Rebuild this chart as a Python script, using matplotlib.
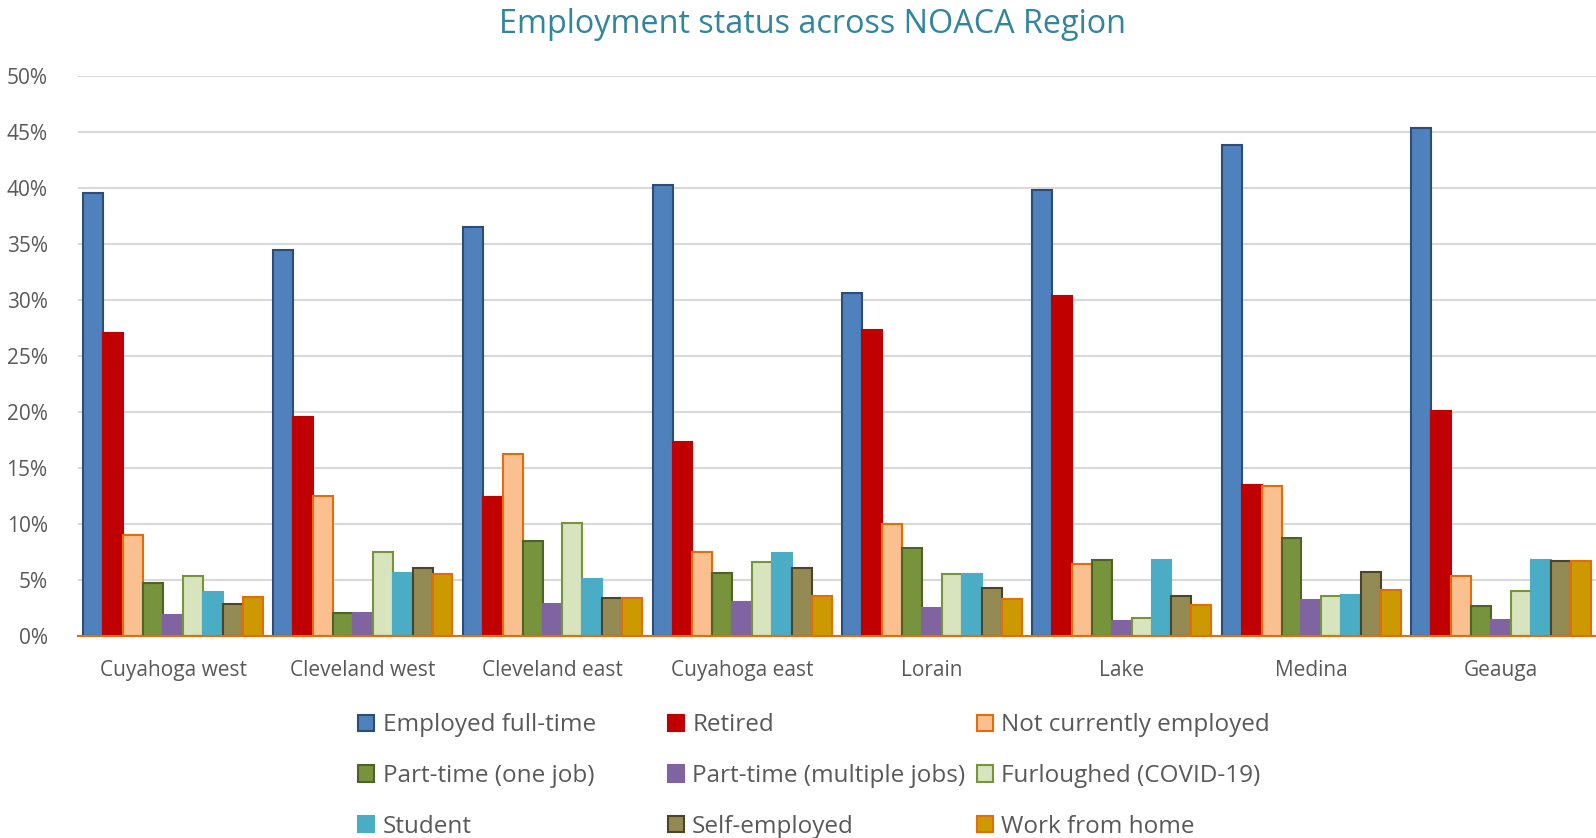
import matplotlib.pyplot as plt
import numpy as np

regions = ['Cuyahoga west', 'Cleveland west', 'Cleveland east', 'Cuyahoga east',
           'Lorain', 'Lake', 'Medina', 'Geauga']

series = ['Employed full-time', 'Retired', 'Not currently employed',
          'Part-time (one job)', 'Part-time (multiple jobs)', 'Furloughed (COVID-19)',
          'Student', 'Self-employed', 'Work from home']

# percent values per series, one entry per region
employed_full = [39.6, 34.5, 36.5, 40.3, 30.6, 39.8, 43.9, 45.4]
retired = [27.1, 19.6, 12.4, 17.3, 27.3, 30.4, 13.5, 20.1]
not_employed = [9.0, 12.5, 16.3, 7.5, 10.0, 6.4, 13.4, 5.4]
part_one = [4.7, 2.05, 8.5, 5.6, 7.9, 6.8, 8.8, 2.7]
part_multi = [1.9, 2.05, 2.9, 3.0, 2.5, 1.3, 3.2, 1.4]
furloughed = [5.4, 7.5, 10.1, 6.6, 5.5, 1.6, 3.6, 4.05]
student = [3.9, 5.6, 5.1, 7.4, 5.5, 6.8, 3.7, 6.8]
self_employed = [2.9, 6.05, 3.4, 6.1, 4.3, 3.6, 5.7, 6.7]
work_home = [3.5, 5.5, 3.4, 3.6, 3.3, 2.8, 4.1, 6.7]

values = [employed_full, retired, not_employed, part_one, part_multi,
          furloughed, student, self_employed, work_home]

fills = ['#4F81BD', '#C00000', '#FAC090', '#77933C', '#8064A2',
         '#D7E4BD', '#4BACC6', '#948A54', '#CC9900']
edges = ['#2C4D75', '#C00000', '#E46C0A', '#4F6228', '#8064A2',
         '#77933C', '#4BACC6', '#4A452A', '#E46C0A']

plt.rcParams['font.family'] = ['Open Sans', 'DejaVu Sans']

fig = plt.figure(figsize=(15.96, 8.38), dpi=100)
ax = fig.add_axes([0.049, 0.241, 0.951, 0.668])

x = np.arange(len(regions))
bw = 0.105
handles = []
for i, (name, vals) in enumerate(zip(series, values)):
    pos = x + (i - 4) * bw
    b = ax.bar(pos, np.array(vals) / 100, width=bw, color=fills[i],
               edgecolor=edges[i], linewidth=1.5, label=name, zorder=3)
    handles.append(b)

ax.set_xlim(-0.5, len(regions) - 0.5)
ax.set_ylim(0, 0.5)
ax.set_yticks(np.arange(0, 0.51, 0.05))
ax.set_yticklabels([f'{int(round(v * 100))}%' for v in np.arange(0, 0.51, 0.05)])
ax.set_xticks(x)
ax.set_xticklabels(regions)
ax.tick_params(axis='both', length=0, labelsize=15, colors='#595959')
ax.tick_params(axis='y', pad=22)
ax.tick_params(axis='x', pad=17)
ax.grid(axis='y', color='#D9D9D9', linewidth=1.5, zorder=0)
for s in ['top', 'right', 'left']:
    ax.spines[s].set_visible(False)
ax.spines['bottom'].set_color('#E46C0A')
ax.spines['bottom'].set_linewidth(1.5)
ax.spines['bottom'].set_zorder(4)

fig.text(0.509, 0.971, 'Employment status across NOACA Region', ha='center', va='center',
         fontsize=23.3, color='#31859C')

# one legend per column so the columns sit at fixed positions like the original
cols = [[0, 3, 6], [1, 4, 7], [2, 5, 8]]
col_x = [0.2245, 0.4185, 0.612]
for idx, cx in zip(cols, col_x):
    fig.legend([handles[i] for i in idx], [series[i] for i in idx],
               loc='center left', bbox_to_anchor=(cx, 0.074),
               frameon=False, fontsize=17.5, labelcolor='#595959',
               handlelength=0.65, handleheight=0.65, handletextpad=0.35,
               labelspacing=1.1, borderpad=0, borderaxespad=0)

fig.savefig('out.png', dpi=100)
